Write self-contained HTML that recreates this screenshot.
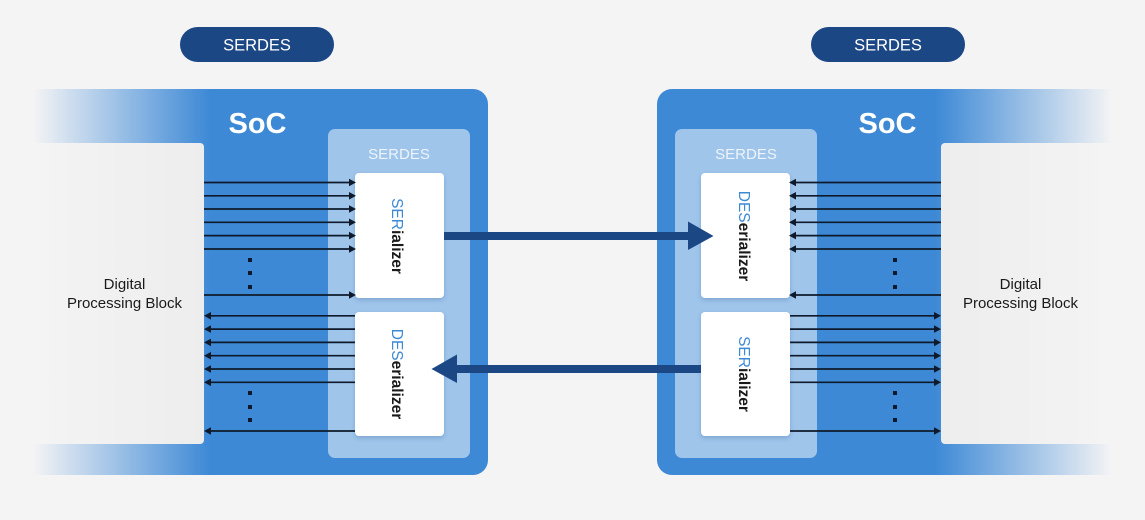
<!DOCTYPE html>
<html><head><meta charset="utf-8"><style>
html,body{margin:0;padding:0;background:#f4f4f5;}
svg{display:block;}
text{font-family:"Liberation Sans",sans-serif;}
</style></head><body>
<svg width="1145" height="520" viewBox="0 0 1145 520" xmlns="http://www.w3.org/2000/svg">
<defs>
<linearGradient id="gL" x1="33" y1="0" x2="210" y2="0" gradientUnits="userSpaceOnUse">
<stop offset="0" stop-color="#3d89d6" stop-opacity="0"/>
<stop offset="0.15" stop-color="#3d89d6" stop-opacity="0.15"/>
<stop offset="1" stop-color="#3d89d6" stop-opacity="1"/>
</linearGradient>
<linearGradient id="gR" x1="1112" y1="0" x2="935" y2="0" gradientUnits="userSpaceOnUse">
<stop offset="0" stop-color="#3d89d6" stop-opacity="0"/>
<stop offset="0.15" stop-color="#3d89d6" stop-opacity="0.15"/>
<stop offset="1" stop-color="#3d89d6" stop-opacity="1"/>
</linearGradient>
<linearGradient id="dL" x1="33" y1="0" x2="204" y2="0" gradientUnits="userSpaceOnUse">
<stop offset="0" stop-color="#f4f4f5"/>
<stop offset="1" stop-color="#ededed"/>
</linearGradient>
<linearGradient id="dR" x1="1112" y1="0" x2="941" y2="0" gradientUnits="userSpaceOnUse">
<stop offset="0" stop-color="#f4f4f5"/>
<stop offset="1" stop-color="#ededed"/>
</linearGradient>
<filter id="sh" x="-20%" y="-20%" width="140%" height="140%">
<feDropShadow dx="0" dy="2" stdDeviation="2" flood-color="#1b4785" flood-opacity="0.25"/>
</filter>
</defs>

<!-- pills -->
<rect x="180" y="27" width="154" height="35" rx="17.5" fill="#1c4785"/>
<text x="257" y="50.5" font-size="16.5" fill="#ffffff" text-anchor="middle">SERDES</text>
<rect x="811" y="27" width="154" height="35" rx="17.5" fill="#1c4785"/>
<text x="888" y="50.5" font-size="16.5" fill="#ffffff" text-anchor="middle">SERDES</text>

<!-- SoC bands -->
<path d="M33 89 H473 A15 15 0 0 1 488 104 V460 A15 15 0 0 1 473 475 H33 Z" fill="url(#gL)"/>
<path d="M1112 89 H672 A15 15 0 0 0 657 104 V460 A15 15 0 0 0 672 475 H1112 Z" fill="url(#gR)"/>

<!-- digital blocks -->
<path d="M33 143 H200 A4 4 0 0 1 204 147 V440 A4 4 0 0 1 200 444 H33 Z" fill="url(#dL)"/>
<path d="M1112 143 H945 A4 4 0 0 0 941 147 V440 A4 4 0 0 0 945 444 H1112 Z" fill="url(#dR)"/>

<text x="124.5" y="289" font-size="15" fill="#1a1a1a" text-anchor="middle">Digital</text>
<text x="124.5" y="308" font-size="15" fill="#1a1a1a" text-anchor="middle">Processing Block</text>
<text x="1020.5" y="289" font-size="15" fill="#1a1a1a" text-anchor="middle">Digital</text>
<text x="1020.5" y="308" font-size="15" fill="#1a1a1a" text-anchor="middle">Processing Block</text>

<!-- SoC labels -->
<text x="257.5" y="133" font-size="29" font-weight="bold" fill="#ffffff" text-anchor="middle">SoC</text>
<text x="887.5" y="133" font-size="29" font-weight="bold" fill="#ffffff" text-anchor="middle">SoC</text>

<!-- inner SERDES -->
<rect x="328" y="129" width="142" height="329" rx="7" fill="#9fc5eb"/>
<rect x="675" y="129" width="142" height="329" rx="7" fill="#9fc5eb"/>
<text x="399" y="159" font-size="15" fill="#eef4fb" text-anchor="middle">SERDES</text>
<text x="746" y="159" font-size="15" fill="#eef4fb" text-anchor="middle">SERDES</text>

<!-- white boxes -->
<g filter="url(#sh)">
<rect x="355" y="173" width="89" height="125" rx="4" fill="#ffffff"/>
<rect x="355" y="312" width="89" height="124" rx="4" fill="#ffffff"/>
<rect x="701" y="173" width="89" height="125" rx="4" fill="#ffffff"/>
<rect x="701" y="312" width="89" height="124" rx="4" fill="#ffffff"/>
</g>

<text transform="translate(392,236) rotate(90)" font-size="15.5" text-anchor="middle" fill="#1a1a1a"><tspan fill="#3d89d6">SER</tspan><tspan font-weight="bold">ializer</tspan></text>
<text transform="translate(392,374) rotate(90)" font-size="15.5" text-anchor="middle" fill="#1a1a1a"><tspan fill="#3d89d6">DES</tspan><tspan font-weight="bold">erializer</tspan></text>
<text transform="translate(739,236) rotate(90)" font-size="15.5" text-anchor="middle" fill="#1a1a1a"><tspan fill="#3d89d6">DES</tspan><tspan font-weight="bold">erializer</tspan></text>
<text transform="translate(739,374) rotate(90)" font-size="15.5" text-anchor="middle" fill="#1a1a1a"><tspan fill="#3d89d6">SER</tspan><tspan font-weight="bold">ializer</tspan></text>

<!-- big arrows (drawn above boxes) -->
<rect x="444" y="232" width="246" height="8" fill="#1c4785"/>
<polygon points="688,221.5 713.5,236 688,250" fill="#1c4785"/>
<rect x="455" y="365" width="246" height="8" fill="#1c4785"/>
<polygon points="457,354.5 431.5,369 457,383" fill="#1c4785"/>

<!-- thin arrows left side -->
<g stroke="#0e1a2b" stroke-width="1.7">
<line x1="204" y1="182.5" x2="350" y2="182.5"/>
<line x1="204" y1="195.8" x2="350" y2="195.8"/>
<line x1="204" y1="209" x2="350" y2="209"/>
<line x1="204" y1="222.3" x2="350" y2="222.3"/>
<line x1="204" y1="235.6" x2="350" y2="235.6"/>
<line x1="204" y1="249" x2="350" y2="249"/>
<line x1="204" y1="295" x2="350" y2="295"/>
<line x1="210" y1="315.8" x2="355" y2="315.8"/>
<line x1="210" y1="329.1" x2="355" y2="329.1"/>
<line x1="210" y1="342.4" x2="355" y2="342.4"/>
<line x1="210" y1="355.7" x2="355" y2="355.7"/>
<line x1="210" y1="369" x2="355" y2="369"/>
<line x1="210" y1="382.3" x2="355" y2="382.3"/>
<line x1="210" y1="431" x2="355" y2="431"/>
<!-- right side -->
<line x1="795" y1="182.5" x2="941" y2="182.5"/>
<line x1="795" y1="195.8" x2="941" y2="195.8"/>
<line x1="795" y1="209" x2="941" y2="209"/>
<line x1="795" y1="222.3" x2="941" y2="222.3"/>
<line x1="795" y1="235.6" x2="941" y2="235.6"/>
<line x1="795" y1="249" x2="941" y2="249"/>
<line x1="795" y1="295" x2="941" y2="295"/>
<line x1="790" y1="315.8" x2="935" y2="315.8"/>
<line x1="790" y1="329.1" x2="935" y2="329.1"/>
<line x1="790" y1="342.4" x2="935" y2="342.4"/>
<line x1="790" y1="355.7" x2="935" y2="355.7"/>
<line x1="790" y1="369" x2="935" y2="369"/>
<line x1="790" y1="382.3" x2="935" y2="382.3"/>
<line x1="790" y1="431" x2="935" y2="431"/>
</g>
<g fill="#0e1a2b">
<polygon points="349,178.7 356,182.5 349,186.3"/>
<polygon points="349,192 356,195.8 349,199.6"/>
<polygon points="349,205.2 356,209 349,212.8"/>
<polygon points="349,218.5 356,222.3 349,226.1"/>
<polygon points="349,231.8 356,235.6 349,239.4"/>
<polygon points="349,245.2 356,249 349,252.8"/>
<polygon points="349,291.2 356,295 349,298.8"/>
<polygon points="211,312 204,315.8 211,319.6"/>
<polygon points="211,325.3 204,329.1 211,332.9"/>
<polygon points="211,338.6 204,342.4 211,346.2"/>
<polygon points="211,351.9 204,355.7 211,359.5"/>
<polygon points="211,365.2 204,369 211,372.8"/>
<polygon points="211,378.5 204,382.3 211,386.1"/>
<polygon points="211,427.2 204,431 211,434.8"/>
<polygon points="796,178.7 789,182.5 796,186.3"/>
<polygon points="796,192 789,195.8 796,199.6"/>
<polygon points="796,205.2 789,209 796,212.8"/>
<polygon points="796,218.5 789,222.3 796,226.1"/>
<polygon points="796,231.8 789,235.6 796,239.4"/>
<polygon points="796,245.2 789,249 796,252.8"/>
<polygon points="796,291.2 789,295 796,298.8"/>
<polygon points="934,312 941,315.8 934,319.6"/>
<polygon points="934,325.3 941,329.1 934,332.9"/>
<polygon points="934,338.6 941,342.4 934,346.2"/>
<polygon points="934,351.9 941,355.7 934,359.5"/>
<polygon points="934,365.2 941,369 934,372.8"/>
<polygon points="934,378.5 941,382.3 934,386.1"/>
<polygon points="934,427.2 941,431 934,434.8"/>
<rect x="248" y="258" width="4" height="4"/>
<rect x="248" y="271" width="4" height="4"/>
<rect x="248" y="285" width="4" height="4"/>
<rect x="248" y="391" width="4" height="4"/>
<rect x="248" y="405" width="4" height="4"/>
<rect x="248" y="418" width="4" height="4"/>
<rect x="893" y="258" width="4" height="4"/>
<rect x="893" y="271" width="4" height="4"/>
<rect x="893" y="285" width="4" height="4"/>
<rect x="893" y="391" width="4" height="4"/>
<rect x="893" y="405" width="4" height="4"/>
<rect x="893" y="418" width="4" height="4"/>
</g>
</svg>
</body></html>
